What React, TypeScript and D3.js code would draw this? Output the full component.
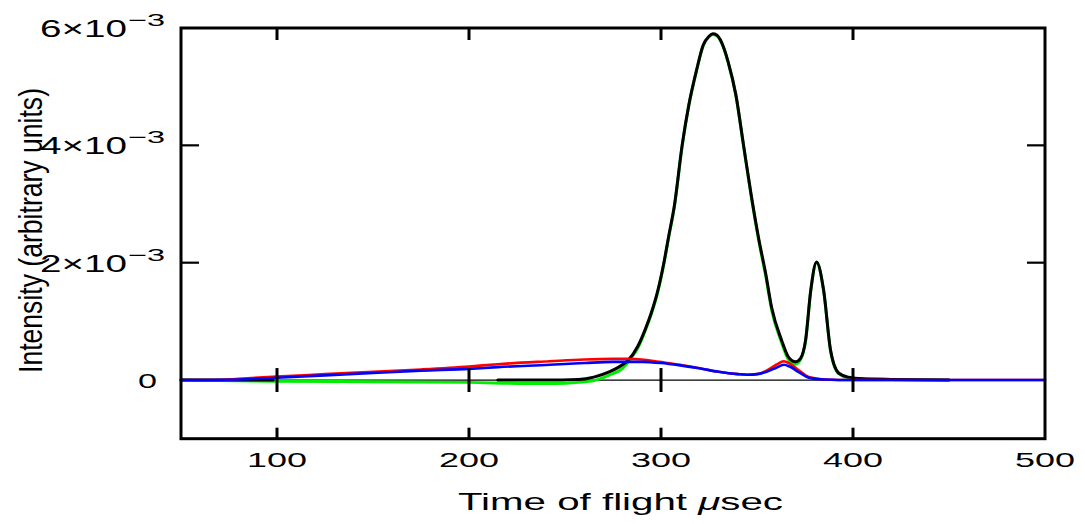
import React from 'react';
import * as d3 from 'd3';

// Time of flight (µsec) and intensity values, intensities in units of 1e-3
const UNIT = 1e-3;

const totalTime = [50, 70, 98, 99, 215, 240, 257, 265, 273, 278, 283, 288, 292, 295, 298, 301.5, 304, 307, 311, 314.5, 318.5, 322, 325, 327, 329, 331.5, 335, 339, 343, 347, 351, 354.5, 357.6, 362.8, 366.4, 370, 372.7, 375.3, 378, 381, 384.7, 388.3, 392.5, 397.6, 405, 420, 450];
const totalValue: (number | null)[] = [0, 0, 0, null, 0, 0, 0.01, 0.05, 0.14, 0.22, 0.34, 0.58, 0.88, 1.15, 1.48, 2.0, 2.45, 2.98, 4.0, 4.69, 5.28, 5.71, 5.86, 5.9, 5.88, 5.76, 5.42, 4.86, 4.0, 3.15, 2.39, 1.82, 1.24, 0.68, 0.39, 0.31, 0.37, 0.68, 1.53, 2.01, 1.53, 0.51, 0.12, 0.05, 0.02, 0.01, 0];

const mainTime = [50, 98, 150, 200, 230, 245, 257, 265, 273, 280, 285, 288, 292, 295, 298, 301.5, 304, 307, 311, 314.5, 318.5, 322, 325, 327, 329, 331.5, 335, 339, 343, 347, 351, 354.5, 357.6, 362.8, 366.4, 370, 372.7, 375.3, 378, 381, 384.7, 388.3, 392.5, 397.6, 405, 420, 450];
const mainValue = [0, -0.02, -0.03, -0.04, -0.06, -0.06, -0.04, -0.01, 0.085, 0.2, 0.4, 0.55, 0.86, 1.13, 1.46, 1.98, 2.43, 2.96, 3.98, 4.68, 5.27, 5.7, 5.85, 5.89, 5.87, 5.75, 5.41, 4.85, 3.99, 3.13, 2.36, 1.78, 1.2, 0.64, 0.35, 0.27, 0.35, 0.66, 1.52, 2.0, 1.52, 0.5, 0.11, 0.04, 0.02, 0.01, 0];

const broadTime = [50, 70, 80, 100, 125, 150, 175, 200, 215, 242, 260, 275, 283, 290, 299, 310, 320, 330, 340, 345, 350, 355, 360, 364, 367, 372, 377, 385, 400, 500];
const broadValue = [0, 0, 0.02, 0.06, 0.1, 0.14, 0.18, 0.23, 0.27, 0.32, 0.35, 0.36, 0.36, 0.35, 0.31, 0.26, 0.2, 0.14, 0.1, 0.09, 0.1, 0.16, 0.26, 0.32, 0.28, 0.16, 0.05, 0.01, 0, 0];

const fitTime = [50, 80, 100, 125, 150, 175, 200, 215, 242, 260, 275, 290, 300, 310, 320, 330, 340, 345, 350, 355, 360, 364, 367, 372, 377, 385, 400, 500];
const fitValue = [0, 0.01, 0.04, 0.08, 0.12, 0.16, 0.19, 0.22, 0.26, 0.29, 0.31, 0.31, 0.29, 0.25, 0.2, 0.14, 0.1, 0.09, 0.1, 0.14, 0.21, 0.26, 0.23, 0.13, 0.04, 0.01, 0, 0];

const xTicks = [100, 200, 300, 400, 500];
const yTicks = [0, 2, 4, 6];
const yTickMantissa = ['0', '2×10', '4×10', '6×10'];
const yTickExponent = ['', '−3', '−3', '−3'];

const W = 1085;
const H = 524;
const left = 181;
const right = 1045;
const top = 28;
const bottom = 438.7;

const FONT = '"Liberation Sans", Arial, sans-serif';

export default function App() {
  const x = d3.scaleLinear().domain([50, 500]).range([left, right]);
  const y = d3.scaleLinear().domain([-1 * UNIT, 6 * UNIT]).range([bottom, top]);

  const line = d3
    .line<[number, number | null]>()
    .defined((d) => d[1] !== null)
    .x((d) => x(d[0]))
    .y((d) => y((d[1] as number) * UNIT))
    .curve(d3.curveMonotoneX);

  const zip = (t: number[], v: (number | null)[]) =>
    t.map((ti, i) => [ti, v[i]] as [number, number | null]);

  const series = [
    { t: mainTime, v: mainValue, color: '#00ee00', w: 3 },
    { t: totalTime, v: totalValue, color: '#000000', w: 3 },
    { t: broadTime, v: broadValue, color: '#ff0000', w: 2.6 },
    { t: fitTime, v: fitValue, color: '#0000ff', w: 2.6 },
  ];

  const y0 = y(0);

  return (
    <svg
      width={W}
      height={H}
      style={{ position: 'absolute', left: 0, top: 0, background: '#fff' }}
    >
      {/* zero line */}
      <line x1={left} x2={right} y1={y0} y2={y0} stroke="#000" strokeWidth={1.3} />

      {series.map((s, i) => (
        <path
          key={i}
          d={line(zip(s.t, s.v)) || ''}
          fill="none"
          stroke={s.color}
          strokeWidth={s.w}
          strokeLinejoin="round"
          strokeLinecap="round"
        />
      ))}

      {/* x ticks: bottom, top and across the zero line */}
      {xTicks.filter((t) => t < 500).map((t) => (
        <g key={t} stroke="#000" strokeWidth={3}>
          <line x1={x(t)} x2={x(t)} y1={bottom} y2={bottom - 11} />
          <line x1={x(t)} x2={x(t)} y1={top} y2={top + 12} />
          <line x1={x(t)} x2={x(t)} y1={y0 - 12} y2={y0 + 12} />
        </g>
      ))}

      {/* y ticks on both sides */}
      {yTicks.filter((v) => v > 0 && v < 6).map((v) => (
        <g key={v} stroke="#000" strokeWidth={2.2}>
          <line x1={left} x2={left + 18} y1={y(v * UNIT)} y2={y(v * UNIT)} />
          <line x1={right} x2={right - 18} y1={y(v * UNIT)} y2={y(v * UNIT)} />
        </g>
      ))}

      {/* frame */}
      <rect
        x={left}
        y={top}
        width={right - left}
        height={bottom - top}
        fill="none"
        stroke="#000"
        strokeWidth={3}
      />

      {/* x tick labels */}
      {xTicks.map((t) => (
        <text
          key={t}
          x={x(t)}
          y={467}
          textAnchor="middle"
          fontFamily={FONT}
          fontSize={21}
          textLength={60}
          lengthAdjust="spacingAndGlyphs"
          fill="#000"
        >
          {t}
        </text>
      ))}

      {/* y tick labels */}
      {yTicks.map((v, i) => {
        const ty = y(v * UNIT);
        if (!yTickExponent[i]) {
          return (
            <text
              key={v}
              x={157}
              y={ty + 8}
              textAnchor="end"
              fontFamily={FONT}
              fontSize={21}
              textLength={19}
              lengthAdjust="spacingAndGlyphs"
              fill="#000"
            >
              {yTickMantissa[i]}
            </text>
          );
        }
        return (
          <g key={v} fill="#000" fontFamily={FONT}>
            <text
              x={40}
              y={ty + 9}
              fontSize={23}
              textLength={87}
              lengthAdjust="spacingAndGlyphs"
            >
              {yTickMantissa[i]}
            </text>
            <text
              x={128}
              y={ty - 2}
              fontSize={17}
              textLength={37}
              lengthAdjust="spacingAndGlyphs"
            >
              {yTickExponent[i]}
            </text>
          </g>
        );
      })}

      {/* axis titles */}
      <text
        x={458}
        y={510}
        fontFamily={FONT}
        fontSize={24}
        textLength={325}
        lengthAdjust="spacingAndGlyphs"
        fill="#000"
      >
        Time of flight <tspan fontStyle="italic">μ</tspan>sec
      </text>
      <text
        transform={`translate(42, 230.5) rotate(-90)`}
        textAnchor="middle"
        fontFamily={FONT}
        fontSize={34}
        textLength={285}
        lengthAdjust="spacingAndGlyphs"
        fill="#000"
      >
        Intensity (arbitrary units)
      </text>
    </svg>
  );
}
